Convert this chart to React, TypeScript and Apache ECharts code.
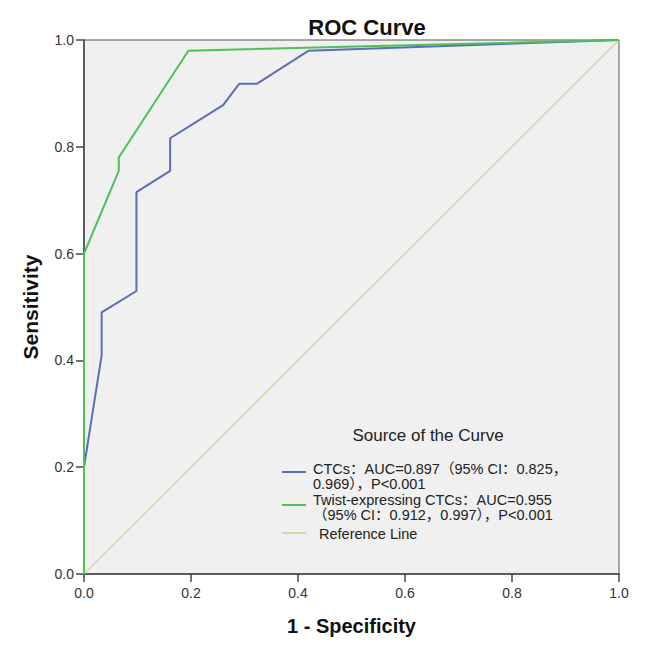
import React, { useEffect, useRef } from "react";
import * as echarts from "echarts";

const ctcsPoints: [number, number][] = [
  [0, 0], [0, 0.2], [0.033, 0.41], [0.033, 0.49], [0.098, 0.53], [0.098, 0.715],
  [0.161, 0.755], [0.161, 0.816], [0.26, 0.878], [0.29, 0.918], [0.323, 0.918],
  [0.42, 0.98], [1, 1],
];
const twistPoints: [number, number][] = [
  [0, 0], [0, 0.6], [0.065, 0.755], [0.065, 0.78], [0.195, 0.98], [1, 1],
];
const referencePoints: [number, number][] = [[0, 0], [1, 1]];

const legendTitle = "Source of the Curve";
const legendItems = [
  { lines: ["CTCs：AUC=0.897（95% CI：0.825，", "0.969），P<0.001"], color: "#5a6db5" },
  { lines: ["Twist-expressing CTCs：AUC=0.955", "（95% CI：0.912，0.997），P<0.001"], color: "#4cc158" },
  { lines: ["Reference Line"], color: "#d9d6a6" },
];

export default function App() {
  const ref = useRef<HTMLDivElement>(null);
  useEffect(() => {
    if (!ref.current) return;
    const chart = echarts.init(ref.current, undefined, { renderer: "svg" });
    const font = "'Liberation Sans', Arial, 'Noto Sans CJK SC', sans-serif";
    const legendGraphics: any[] = [
      {
        type: "text",
        x: 428,
        y: 435,
        style: {
          text: legendTitle,
          font: `17px ${font}`,
          fill: "#222",
          align: "center",
          verticalAlign: "middle",
        },
      },
    ];
    const lineCenters = [[469, 484], [500, 515], [534]];
    const markerY = [472, 505, 533];
    const textX = [313, 313, 319];
    legendItems.forEach((it, i) => {
      legendGraphics.push({
        type: "line",
        shape: { x1: 282, y1: markerY[i], x2: 306, y2: markerY[i] },
        style: { stroke: it.color, lineWidth: 2 },
      });
      it.lines.forEach((ln, j) => {
        legendGraphics.push({
          type: "text",
          x: textX[i],
          y: lineCenters[i][j],
          style: {
            text: ln,
            font: `14.5px ${font}`,
            fill: "#222",
            verticalAlign: "middle",
          },
        });
      });
    });
    chart.setOption({
      animation: false,
      backgroundColor: "#fff",
      textStyle: { fontFamily: font },
      title: {
        text: "ROC Curve",
        left: 362,
        top: 11,
        textAlign: "center",
        textStyle: { fontSize: 22, fontWeight: "bold", color: "#111", fontFamily: font },
      },
      grid: {
        left: 84,
        right: 38,
        top: 40,
        bottom: 84,
        show: true,
        backgroundColor: "#f0f0f0",
        borderColor: "#555",
        borderWidth: 1,
      },
      xAxis: {
        type: "value",
        min: 0,
        max: 1,
        interval: 0.2,
        name: "1 - Specificity",
        nameLocation: "middle",
        nameGap: 42,
        nameTextStyle: { fontSize: 20, fontWeight: "bold", color: "#111", fontFamily: font },
        axisLine: { show: true, lineStyle: { color: "#444", width: 1.5 } },
        axisTick: { show: true, length: 8, lineStyle: { color: "#444", width: 1.5 } },
        axisLabel: {
          margin: 12,
          fontSize: 14,
          color: "#333",
          fontFamily: font,
          formatter: (v: number) => v.toFixed(1),
        },
        splitLine: { show: false },
      },
      yAxis: {
        type: "value",
        min: 0,
        max: 1,
        interval: 0.2,
        name: "Sensitivity",
        nameLocation: "middle",
        nameGap: 43,
        nameTextStyle: { fontSize: 21, fontWeight: "bold", color: "#111", fontFamily: font },
        axisLine: { show: true, lineStyle: { color: "#444", width: 1.5 } },
        axisTick: { show: true, length: 8, lineStyle: { color: "#444", width: 1.5 } },
        axisLabel: {
          margin: 10,
          fontSize: 14,
          color: "#333",
          fontFamily: font,
          formatter: (v: number) => v.toFixed(1),
        },
        splitLine: { show: false },
      },
      series: [
        {
          name: "Reference Line",
          type: "line",
          data: referencePoints,
          showSymbol: false,
          lineStyle: { color: "#d9d6a6", width: 1.5 },
          z: 1,
        },
        {
          name: "CTCs",
          type: "line",
          data: ctcsPoints,
          showSymbol: false,
          lineStyle: { color: "#5a6db5", width: 2 },
          z: 2,
        },
        {
          name: "Twist-expressing CTCs",
          type: "line",
          data: twistPoints,
          showSymbol: false,
          lineStyle: { color: "#4cc158", width: 2 },
          z: 3,
        },
      ],
      graphic: legendGraphics,
    });
    return () => chart.dispose();
  }, []);
  return (
    <div
      ref={ref}
      style={{ position: "absolute", left: 0, top: 0, width: 657, height: 658 }}
    />
  );
}
